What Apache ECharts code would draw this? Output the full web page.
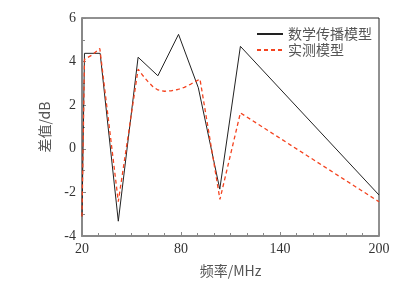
<!DOCTYPE html>
<html><head><meta charset="utf-8">
<script src="https://cdn.jsdelivr.net/npm/echarts@6/dist/echarts.min.js"></script>
<style>html,body{margin:0;padding:0;background:#fff}#c{width:409px;height:289px}</style>
</head><body><div id="c"></div>
<script>
var modelFreq = [20, 21.5, 31, 42, 54, 66, 78.5, 90.5, 103.5, 116, 200];
var modelVals = [-3.1, 4.38, 4.38, -3.32, 4.2, 3.35, 5.25, 2.8, -1.85, 4.7, -2.12];
var measFreq = [20, 21.5, 26, 30.8, 42, 54, 57, 60, 63, 66, 70, 74, 78, 82, 86, 91.5, 103.6, 116, 200];
var measVals = [-3.1, 4.1, 4.3, 4.6, -2.42, 3.65, 3.35, 3.08, 2.85, 2.7, 2.64, 2.66, 2.72, 2.82, 2.97, 3.2, -2.32, 1.65, -2.43];
var xTicks = [20, 80, 140, 200];
var yTicks = [-4, -2, 0, 2, 4, 6];
var seriesNames = ['数学传播模型', '实测模型'];

function pairs(xs, ys){ return xs.map(function(x,i){ return [x, ys[i]]; }); }
var chart = echarts.init(document.getElementById('c'), null, {renderer:'canvas'});
var labelFont = {fontFamily:'Liberation Serif', fontSize:14, color:'#333'};
chart.setOption({
  animation:false,
  backgroundColor:'#fff',
  grid:{left:82, right:30, top:18, bottom:53, show:true, borderColor:'#222', borderWidth:1, backgroundColor:'transparent'},
  legend:{
    data:seriesNames, right:32, top:22, orient:'vertical', itemGap:2,
    itemWidth:26, itemHeight:12, icon:'inherit',
    itemStyle:{opacity:0},
    textStyle:{fontFamily:'Noto Sans CJK SC', fontSize:14, color:'#555'}
  },
  xAxis:{
    type:'value', min:xTicks[0], max:xTicks[xTicks.length-1], interval:60,
    name:'频率/MHz', nameLocation:'middle', nameGap:28,
    nameTextStyle:{fontFamily:'Noto Sans CJK SC', fontSize:14, color:'#555'},
    axisLine:{onZero:false, lineStyle:{color:'#888', width:2}},
    axisTick:{inside:true, length:4, lineStyle:{color:'#888'}},
    minorTick:{show:true, splitNumber:6, length:3, lineStyle:{color:'#888'}},
    axisLabel:Object.assign({margin:6}, labelFont),
    splitLine:{show:false}
  },
  yAxis:{
    type:'value', min:yTicks[0], max:yTicks[yTicks.length-1], interval:2,
    name:'差值/dB', nameLocation:'middle', nameGap:30, nameRotate:90,
    nameTextStyle:{fontFamily:'Noto Sans CJK SC', fontSize:14, color:'#555'},
    axisLine:{show:true, onZero:false, lineStyle:{color:'#888', width:2}},
    axisTick:{show:true, inside:true, length:4, lineStyle:{color:'#888'}},
    minorTick:{show:true, splitNumber:2, length:3, lineStyle:{color:'#888'}},
    axisLabel:Object.assign({margin:6}, labelFont),
    splitLine:{show:false}
  },
  series:[
    {name:seriesNames[0], type:'line', data:pairs(modelFreq, modelVals), symbol:'none',
     lineStyle:{color:'#222', width:1}, itemStyle:{color:'#222'}},
    {name:seriesNames[1], type:'line', data:pairs(measFreq, measVals), symbol:'none',
     lineStyle:{color:'#f4431f', width:1.3, type:[4,3]}, itemStyle:{color:'#f4431f'}}
  ]
});
</script></body></html>
